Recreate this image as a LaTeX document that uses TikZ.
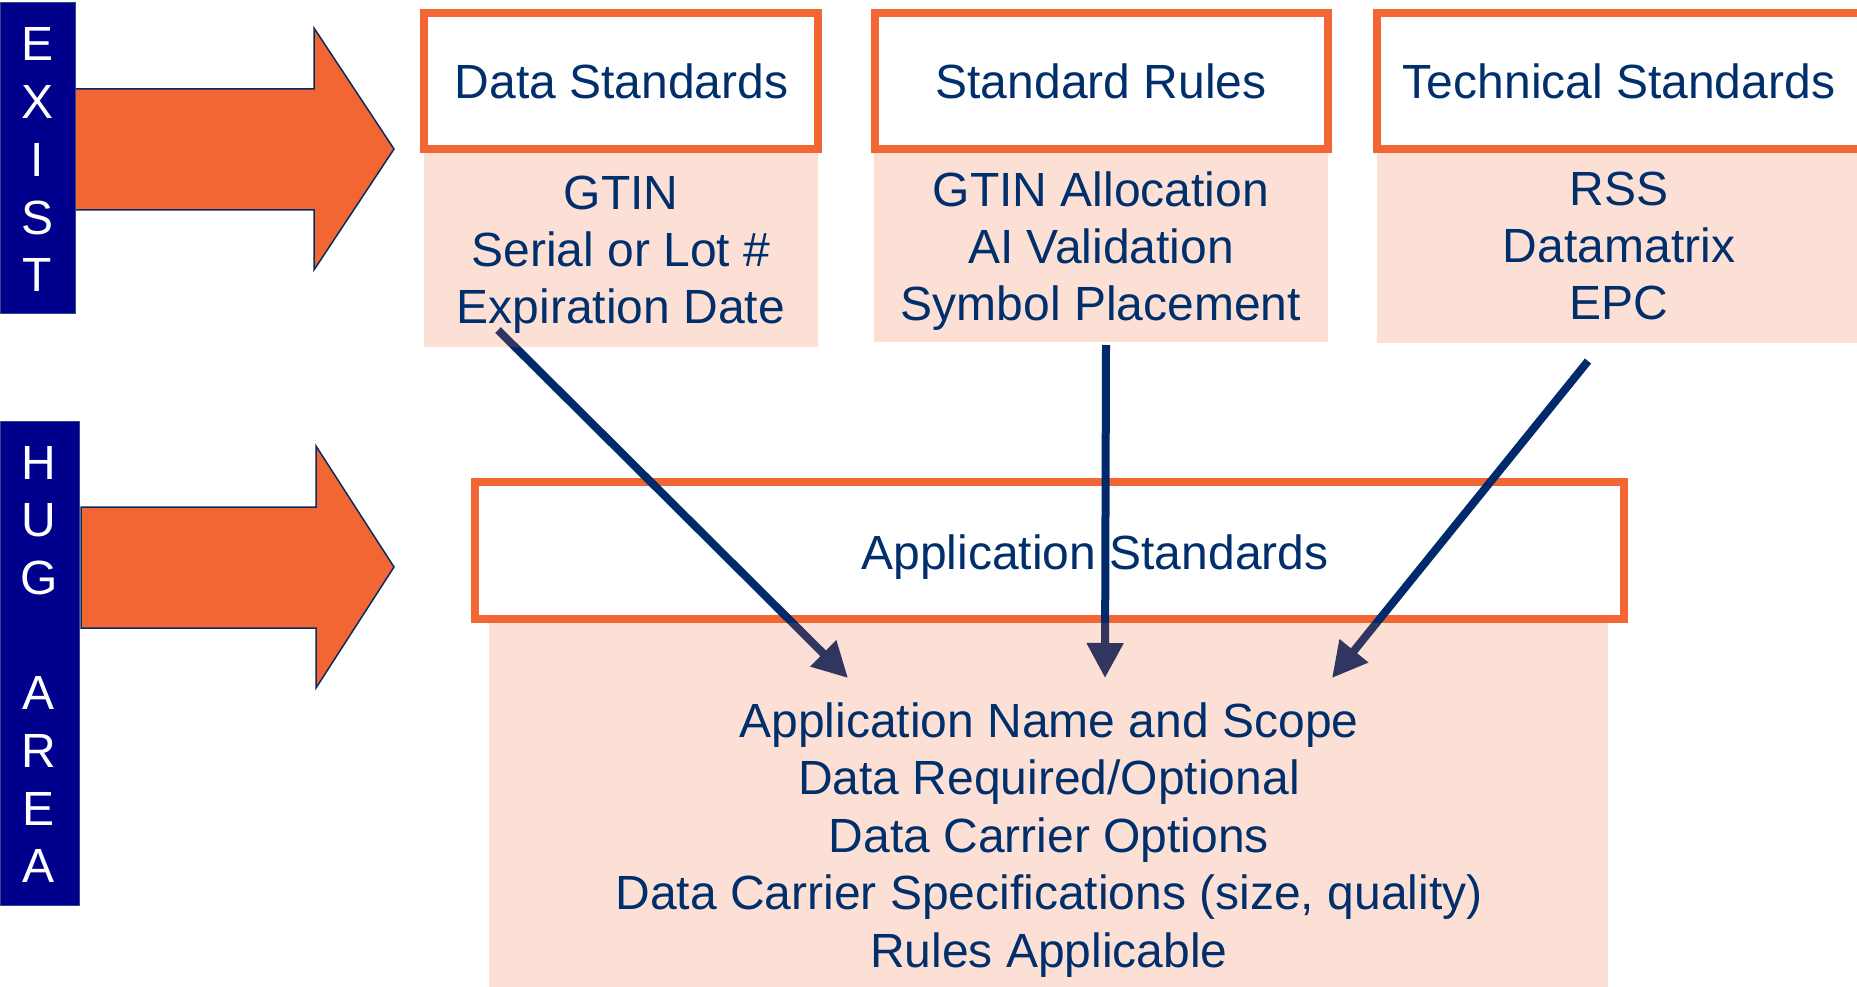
\documentclass[tikz,border=0pt]{standalone}
\usepackage{fontspec}
\setmainfont{Liberation Sans}
\usetikzlibrary{arrows.meta}
\definecolor{orng}{HTML}{F26633}
\definecolor{navytxt}{HTML}{002F6C}
\definecolor{barblue}{HTML}{00008C}
\definecolor{barline}{HTML}{2E4A86}
\definecolor{linenavy}{HTML}{002A6B}
\definecolor{outl}{HTML}{0B2A5E}
\begin{document}
\begin{tikzpicture}[x=1pt,y=-1pt,
  txt/.style={text=navytxt, font=\fontsize{48}{57}\selectfont, inner sep=0pt, anchor=base},
  bigtxt/.style={text=navytxt, font=\fontsize{48}{57.6}\selectfont, inner sep=0pt, anchor=base},
  titlebox/.style={draw=orng, line width=8pt, fill=white, rectangle, inner sep=0pt, outer sep=0pt},
  tint/.style={fill=orng, fill opacity=0.2, draw=none, rectangle, inner sep=0pt, outer sep=0pt},
  barbox/.style={fill=barblue, draw=barline, line width=1pt, rectangle, inner sep=0pt},
  blockarrow/.style={fill=orng, draw=outl, line width=1.5pt, line join=miter},
  flow/.style={draw=linenavy, line width=8pt, -{Triangle[length=35pt,width=35pt]}},
  lettr/.style={text=white, font=\fontsize{48}{57.7}\selectfont, inner sep=0pt, anchor=base}
]
\useasboundingbox (0,0) rectangle (1857,987);
\clip (0,0) rectangle (1857,987);

% block arrows
\draw[blockarrow] (75,89) -- (314,89) -- (314,28) -- (394,149) -- (314,270) -- (314,210) -- (75,210) -- cycle;
\draw[blockarrow] (81,507) -- (316,507) -- (316,446) -- (394,567) -- (316,688) -- (316,628) -- (81,628) -- cycle;

% side bars
\node[barbox, minimum width=75, minimum height=310] (exist) at (37.5,158) {};
\node[barbox, minimum width=79, minimum height=484] (hug) at (39.5,663) {};
\node[lettr] (existt) at (37.5,61) {\begin{tabular}[t]{@{}c@{}}E\\X\\I\\S\\T\end{tabular}};
\node[lettr] (hugt) at (39,479) {\begin{tabular}[t]{@{}c@{}}H\\U\\G\\ \\A\\R\\E\\A\end{tabular}};

% title boxes
\node[titlebox, minimum width=394, minimum height=136] (ds) at (621,81) {};
\node[titlebox, minimum width=453, minimum height=136] (sr) at (1101.5,81) {};
\node[titlebox, minimum width=493, minimum height=136] (ts) at (1623.5,81) {};
\node[titlebox, minimum width=1149, minimum height=137] (app) at (1049.5,550.5) {};

% connectors
\coordinate (f1s) at (498,330);
\coordinate (f1e) at (848,678);
\coordinate (f2s) at (1106,345);
\coordinate (f2e) at (1105,678);
\coordinate (f3s) at (1588,361);
\coordinate (f3e) at (1332,678);
\draw[flow] (f1s) -- (f1e);
\draw[flow] (f2s) -- (f2e);
\draw[flow] (f3s) -- (f3e);

% tinted list areas
\node[tint, minimum width=394, minimum height=194] (dsl) at (621,250) {};
\node[tint, minimum width=454, minimum height=189] (srl) at (1101,247.5) {};
\node[tint, minimum width=493, minimum height=190] (tsl) at (1623.5,248) {};
\node[tint, minimum width=1119, minimum height=377] (appl) at (1048.5,811.5) {};

% texts
\node[txt] (dst) at (621.5,99) {Data Standards};
\node[txt] (srt) at (1101,99) {Standard Rules};
\node[txt] (tst) at (1619,99) {Technical Standards};
\node[txt] (appt) at (1095,569) {Application Standards};

\node[txt] (dslt) at (621,210) {\begin{tabular}[t]{@{}c@{}}GTIN\\Serial or Lot \#\\Expiration Date\end{tabular}};
\node[txt] (srlt) at (1101,207) {\begin{tabular}[t]{@{}c@{}}GTIN Allocation\\AI Validation\\Symbol Placement\end{tabular}};
\node[txt] (tslt) at (1619,206) {\begin{tabular}[t]{@{}c@{}}RSS\\Datamatrix\\EPC\end{tabular}};
\node[bigtxt] (applt) at (1049,737) {\begin{tabular}[t]{@{}c@{}}Application Name and Scope\\Data Required/Optional\\Data Carrier Options\\Data Carrier Specifications (size, quality)\\Rules Applicable\end{tabular}};
\end{tikzpicture}
\end{document}
